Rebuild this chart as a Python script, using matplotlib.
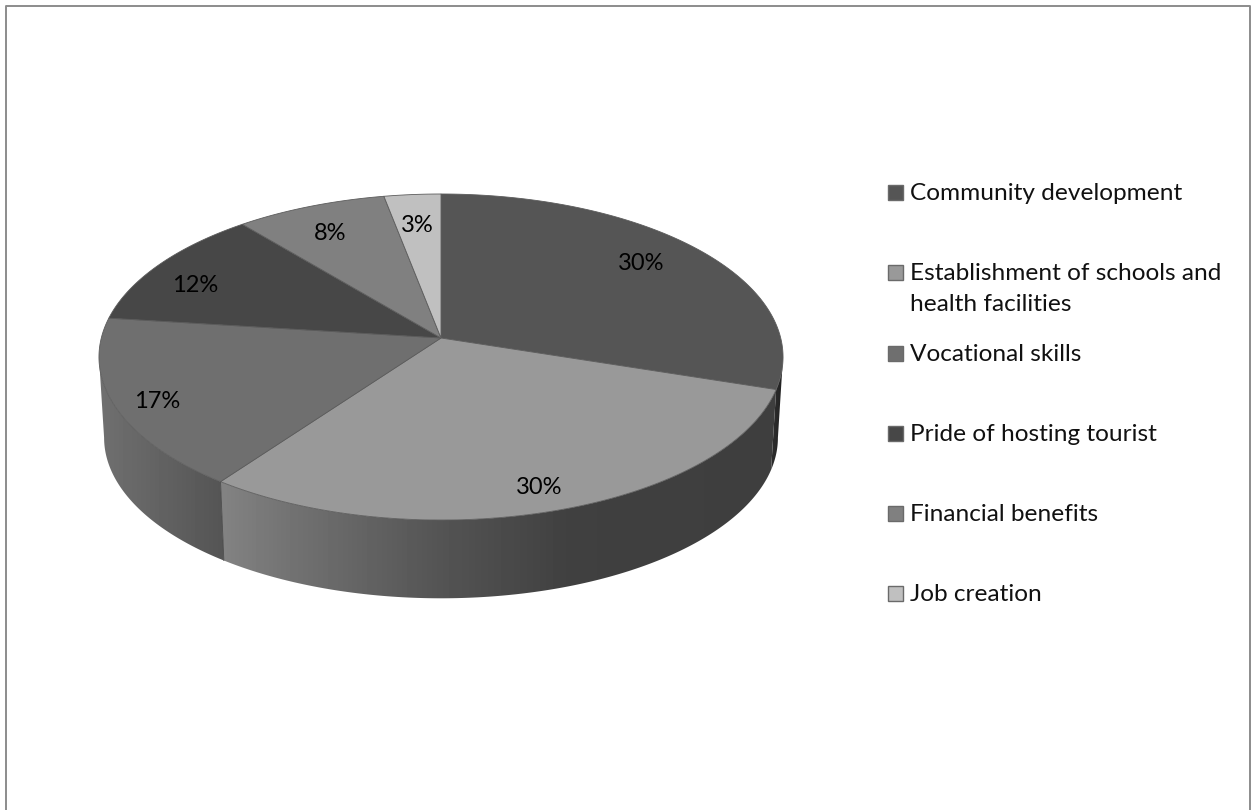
import matplotlib.pyplot as plt
import numpy as np
from matplotlib.patches import Polygon, Rectangle

categories = [
    "Community development",
    "Establishment of schools and\nhealth facilities",
    "Vocational skills",
    "Pride of hosting tourist",
    "Financial benefits",
    "Job creation",
]
shares = [30, 30, 17, 12, 8, 3]

top_colors = ["#555555", "#999999", "#6f6f6f", "#474747", "#808080", "#c0c0c0"]
legend_rows = [192, 272, 353, 433, 513, 593]
label_xy = [(641, 263), (539, 488), (157, 402), (195, 285), (330, 233), (417, 226)]

# side wall shading per slice: (x, grey level) stops
wall_stops = {
    0: ([770, 785], [0x30, 0x1e]),
    1: ([224, 300, 440, 570, 785], [0x82, 0x70, 0x54, 0x40, 0x3e]),
    2: ([98, 225], [0x70, 0x54]),
}

plt.rcParams["font.family"] = ["Lato", "DejaVu Sans"]

fig = plt.figure(figsize=(12.52, 8.10), dpi=100)
ax = fig.add_axes([0, 0, 1, 1])
ax.set_xlim(0, 1252)
ax.set_ylim(810, 0)
ax.axis("off")

# perspective of the pie disc
K = 0.1166
RX = 339.7
RY = 160.8


def project(deg, r=1.0, cx=441.0, cy=338.0, scale=1.0):
    t = np.radians(deg)
    u = r * np.sin(t)
    v = r * np.cos(t)
    w = 1 + K * v
    return cx + scale * RX * u / w, cy - scale * RY * v / w


def rim(a, b, **kw):
    deg = np.linspace(a, b, max(int(abs(b - a) * 2), 2))
    x, y = project(deg, **kw)
    return np.column_stack([x, y])


edges = np.concatenate([[0], np.cumsum(shares)]) * 360.0 / sum(shares)

# the wall is only visible between the two points where the rim turns back
tangent = np.degrees(np.arccos(-K))

# frame, open at the bottom
ax.plot([5.5, 5.5, 1250, 1250], [810, 5.5, 5.5, 810], color="#8c8c8c", lw=1.4, zorder=1)

# side walls
low = dict(cy=419.0, scale=0.985)
for i, (xs, greys) in wall_stops.items():
    a = max(edges[i], tangent)
    b = min(edges[i + 1], 360 - tangent)
    pts = np.vstack([rim(a, b), rim(b, a, **low)])
    poly = Polygon(pts, closed=True, fc="none", ec="none", transform=ax.transData)
    ax.add_patch(poly)
    gx = np.arange(90, 800)
    grad = np.interp(gx, xs, greys)[np.newaxis, :] / 255.0
    im = ax.imshow(grad, cmap="gray", vmin=0, vmax=1, extent=(90, 800, 610, 190),
                   aspect="auto", zorder=2)
    im.set_clip_path(poly)

ax.set_xlim(0, 1252)
ax.set_ylim(810, 0)

# seam between the two front walls
seam = np.vstack([rim(edges[2], edges[2]), rim(edges[2], edges[2], **low)])
ax.plot(seam[:, 0], seam[:, 1], color="#4a4a4a", lw=0.6, zorder=3)

# top of the pie
center = project(0, r=0.0)
for i, c in enumerate(top_colors):
    pts = np.vstack([[center], rim(edges[i], edges[i + 1])])
    ax.add_patch(Polygon(pts, closed=True, fc=c, ec="#5c5c5c", lw=0.6, zorder=4))

for (x, y), s in zip(label_xy, shares):
    ax.text(x, y, f"{s}%", ha="center", va="center", fontsize=17, color="black", zorder=5)

# legend
for name, c, y in zip(categories, top_colors, legend_rows):
    ax.add_patch(Rectangle((888, y - 7.5), 15, 15, fc=c, ec="#6a6a6a", lw=1.0, zorder=4))
    ax.text(910, y - 9, name, ha="left", va="top", fontsize=17.6, color="#111111",
            linespacing=1.6, zorder=5)

plt.savefig("out.png", dpi=100)
plt.close()
